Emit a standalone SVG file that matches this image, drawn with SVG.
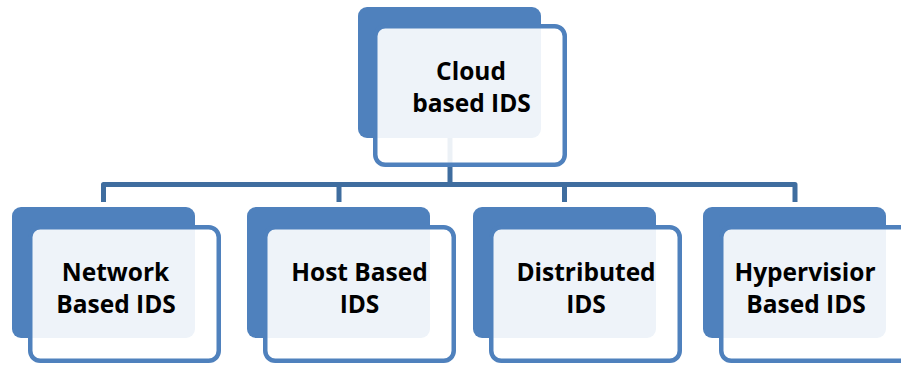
<svg xmlns="http://www.w3.org/2000/svg" width="901" height="365" viewBox="0 0 901 365">
<style>
.back{fill:#4F81BD;}
.front{fill:#FFFFFF;fill-opacity:0.9;stroke:#4F81BD;stroke-width:4.5;}
.conn{fill:none;stroke:#3F6D9F;stroke-width:5;stroke-linejoin:round;}
.t{font-family:"Open Sans","Lato","Liberation Sans",sans-serif;font-weight:bold;font-size:24.5px;fill:#000;text-anchor:middle;}
</style>
<rect width="901" height="365" fill="#FFFFFF"/>
<g id="node-cloud-back"><rect class="back" x="358" y="7" width="183" height="131" rx="9"/></g>
<g id="connectors">
<path class="conn" d="M450 138 V184.5"/>
<path class="conn" d="M103.5 202 V184.5 H795 V202"/>
<path class="conn" d="M339 184.5 V202"/>
<path class="conn" d="M564.5 184.5 V202"/>
</g>
<g id="node-cloud">
<rect class="front" x="375.25" y="26.25" width="189.5" height="138.5" rx="10"/>
<text class="t" x="471" y="80">Cloud</text>
<text class="t" x="471.5" y="112">based IDS</text>
</g>
<g id="node-network">
<rect class="back" x="12" y="207" width="183" height="131" rx="9"/>
<rect class="front" x="30.25" y="227.25" width="188.5" height="133.5" rx="10"/>
<text class="t" x="115.5" y="281">Network</text>
<text class="t" x="116" y="313">Based IDS</text>
</g>
<g id="node-host">
<rect class="back" x="247" y="207" width="183" height="131" rx="9"/>
<rect class="front" x="265.25" y="227.25" width="188.5" height="133.5" rx="10"/>
<text class="t" x="359.5" y="281">Host Based</text>
<text class="t" x="359.5" y="313">IDS</text>
</g>
<g id="node-distributed">
<rect class="back" x="473" y="207" width="183" height="131" rx="9"/>
<rect class="front" x="491.25" y="227.25" width="188.5" height="133.5" rx="10"/>
<text class="t" x="586" y="281">Distributed</text>
<text class="t" x="586" y="313">IDS</text>
</g>
<g id="node-hypervisior">
<rect class="back" x="703" y="207" width="183" height="131" rx="9"/>
<rect class="front" x="721.25" y="227.25" width="188.5" height="133.5" rx="10"/>
<text class="t" x="805" y="281">Hypervisior</text>
<text class="t" x="806" y="313">Based IDS</text>
</g>
</svg>
